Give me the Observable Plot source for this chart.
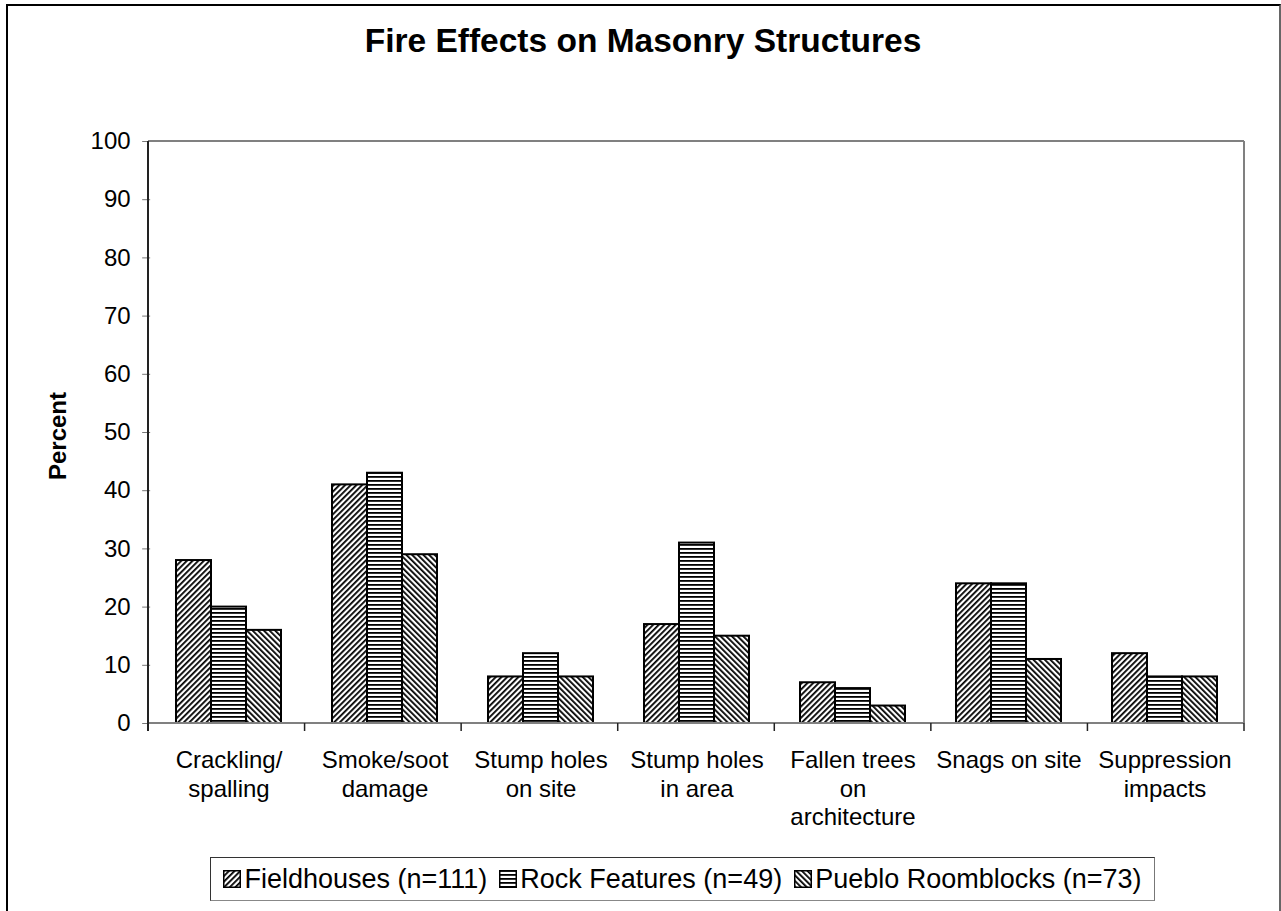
<!DOCTYPE html>
<html>
<head>
<meta charset="utf-8">
<script src="https://cdn.jsdelivr.net/npm/d3@7"></script>
<script src="https://cdn.jsdelivr.net/npm/@observablehq/plot@0.6"></script>
<style>
  body { margin: 0; background: #fff; font-family: "Liberation Sans", Arial, sans-serif; }
  #wrap { position: relative; width: 1281px; height: 911px; overflow: hidden; background: #fff; }
  #border { position: absolute; left: 6px; top: 4px; width: 1275px; height: 940px; box-sizing: border-box;
            border-left: 2px solid #000; border-top: 2px solid #000; border-right: 2px solid #666; }
  #title { position: absolute; left: 6px; width: 1274px; top: 22px; text-align: center;
           font-weight: bold; font-size: 33.5px; color: #000; }
  #ylabel { position: absolute; left: 58px; top: 436px; transform: translate(-50%, -50%) rotate(-90deg);
            font-weight: bold; font-size: 24px; white-space: nowrap; color: #000; }
  #chart { position: absolute; left: 0; top: 0; }
  #legend { position: absolute; left: 210px; top: 857px; width: 945px; height: 44px; box-sizing: border-box;
            border: 1px solid #333; border-right-color: #777; border-bottom-color: #888;
            display: flex; align-items: center; justify-content: center; font-size: 27px; color: #000; }
  .item { display: flex; align-items: center; margin: 0 6px; white-space: nowrap; }
  .sw { width: 18px; height: 18px; margin-right: 3px; }
</style>
</head>
<body>
<svg width="0" height="0" style="position:absolute">
  <defs>
    <pattern id="hatch-fh" patternUnits="userSpaceOnUse" width="4" height="4" patternTransform="rotate(45)">
      <rect width="4" height="4" fill="#fff"/><rect width="1.8" height="4" fill="#000"/>
    </pattern>
    <pattern id="hatch-rf" patternUnits="userSpaceOnUse" width="4" height="4">
      <rect width="4" height="4" fill="#fff"/><rect width="4" height="1.8" fill="#000"/>
    </pattern>
    <pattern id="hatch-pr" patternUnits="userSpaceOnUse" width="4" height="4" patternTransform="rotate(-45)">
      <rect width="4" height="4" fill="#fff"/><rect width="1.8" height="4" fill="#000"/>
    </pattern>
  </defs>
</svg>
<div id="wrap">
  <div id="border"></div>
  <div id="title">Fire Effects on Masonry Structures</div>
  <div id="ylabel">Percent</div>
  <div id="chart"></div>
  <div id="legend"></div>
</div>
<script>
// ---- data ----
const categories = ["Crackling/spalling", "Smoke/soot damage", "Stump holes on site", "Stump holes in area",
                    "Fallen trees on architecture", "Snags on site", "Suppression impacts"];
const categoryLabels = ["Crackling/\nspalling", "Smoke/soot\ndamage", "Stump holes\non site", "Stump holes\nin area",
                        "Fallen trees\non\narchitecture", "Snags on site", "Suppression\nimpacts"];
const seriesNames = ["Fieldhouses (n=111)", "Rock Features (n=49)", "Pueblo Roomblocks (n=73)"];
const fieldhouses = [28, 41, 8, 17, 7, 24, 12];
const rockFeatures = [20, 43, 12, 31, 6, 24, 8];
const puebloRoomblocks = [16, 29, 8, 15, 3, 11, 8];
const yTicks = [0, 10, 20, 30, 40, 50, 60, 70, 80, 90, 100];
const hatches = ["url(#hatch-fh)", "url(#hatch-rf)", "url(#hatch-pr)"];

const seriesValues = [fieldhouses, rockFeatures, puebloRoomblocks];
const rows = [];
categories.forEach((c, i) => seriesNames.forEach((s, j) => rows.push({category: c, series: s, value: seriesValues[j][i]})));
const labelOf = new Map(categories.map((c, i) => [c, categoryLabels[i]]));

const W = 1281, H = 840;
const mL = 148, mR = 37, mT = 141, mB = H - 723;
const padIn = 0.33, padOut = 0.165;
// the y axis sits on the first facet's edge; shift it back to the plot's left edge
const stepPx = (W - mL - mR) / (categories.length - padIn + 2 * padOut);
const facetOffset = padOut * stepPx;

const plot = Plot.plot({
  width: W, height: H,
  marginLeft: mL, marginRight: mR, marginTop: mT, marginBottom: mB,
  style: {background: "transparent", fontFamily: "'Liberation Sans', Arial, sans-serif", fontSize: "24px", color: "#000"},
  fx: {domain: categories, paddingInner: padIn, paddingOuter: padOut},
  x: {domain: seriesNames, padding: 0, axis: null},
  y: {domain: [0, 100], axis: null},
  color: {domain: seriesNames, range: hatches},
  marks: [
    Plot.axisY({ticks: yTicks, tickSize: 8, tickPadding: 12, label: null, stroke: "#777", fill: "#000", dx: -facetOffset}),
    Plot.axisFx({anchor: "bottom", tickSize: 0, tickPadding: 25, lineHeight: 1.17, tickFormat: c => labelOf.get(c), label: null, fill: "#000"}),
    Plot.barY(rows, {fx: "category", x: "series", y: "value", fill: "series", stroke: "#000", strokeWidth: 2})
  ]
});
document.getElementById("chart").appendChild(plot);

// frame lines and category boundary ticks from the plot's scales
const fxs = plot.scale("fx"), ysc = plot.scale("y");
const band = d3.scaleBand(fxs.domain, fxs.range).paddingInner(padIn).paddingOuter(padOut);
const y = d3.scaleLinear(ysc.domain, ysc.range);
const [x0, x1] = fxs.range;
const svg = d3.select(plot);
const g = svg.append("g");
g.append("line").attr("x1", x0).attr("x2", x1).attr("y1", y(100)).attr("y2", y(100)).attr("stroke", "#808080").attr("stroke-width", 2);
g.append("line").attr("x1", x1).attr("x2", x1).attr("y1", y(100)).attr("y2", y(0)).attr("stroke", "#808080").attr("stroke-width", 2);
g.append("line").attr("x1", x0).attr("x2", x1).attr("y1", y(0)).attr("y2", y(0)).attr("stroke", "#808080").attr("stroke-width", 2);
g.append("line").attr("x1", x0).attr("x2", x0).attr("y1", y(100)).attr("y2", y(0) + 8).attr("stroke", "#222").attr("stroke-width", 2);
d3.range(categories.length + 1).forEach(i => {
  const bx = x0 + i * band.step();
  g.append("line").attr("x1", bx).attr("x2", bx).attr("y1", y(0)).attr("y2", y(0) + 8).attr("stroke", "#222").attr("stroke-width", 1.5);
});

// legend
const legend = d3.select("#legend");
seriesNames.forEach((s, j) => {
  const it = legend.append("div").attr("class", "item");
  const sw = it.append("svg").attr("class", "sw").attr("width", 18).attr("height", 18);
  sw.append("rect").attr("x", 0.75).attr("y", 0.75).attr("width", 16.5).attr("height", 16.5).attr("fill", hatches[j]).attr("stroke", "#000").attr("stroke-width", 1.5);
  it.append("span").text(s);
});
</script>
</body>
</html>
